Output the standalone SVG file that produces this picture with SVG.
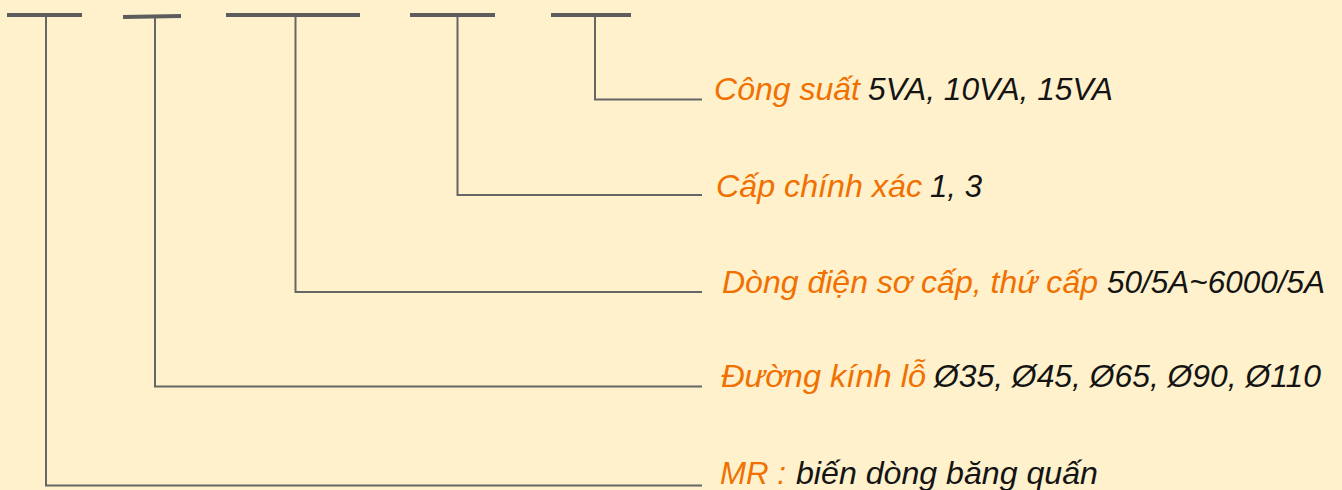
<svg xmlns="http://www.w3.org/2000/svg" width="1342" height="490" viewBox="0 0 1342 490">
<style>
.bar{stroke:#5c5c5c;stroke-width:4;fill:none}
.con{stroke:#666;stroke-width:2;fill:none}
text{font-family:"Liberation Sans",Arial,sans-serif;font-style:italic;font-size:31.5px}
.o{fill:#f07000}
.k{fill:#141414}
</style>
<rect width="1342" height="490" fill="#fff1cc"/>
<g id="bars">
<line class="bar" x1="7" y1="15" x2="82" y2="15"/>
<line class="bar" x1="123" y1="17" x2="181" y2="16"/>
<line class="bar" x1="226" y1="15" x2="360" y2="15"/>
<line class="bar" x1="410" y1="15" x2="495" y2="15"/>
<line class="bar" x1="551" y1="15" x2="631" y2="15"/>
</g>
<g id="connectors">
<path class="con" d="M46 17V485.5H702"/>
<path class="con" d="M155 18V386.5H702"/>
<path class="con" d="M295.5 17V292H702"/>
<path class="con" d="M457.5 17V195H702"/>
<path class="con" d="M595 17V99.5H702"/>
</g>
<g id="label-congsuat">
<text class="o" x="714" y="100" textLength="146" lengthAdjust="spacingAndGlyphs">Công suất</text>
<text class="k" x="868" y="100" textLength="245" lengthAdjust="spacingAndGlyphs">5VA, 10VA, 15VA</text>
</g>
<g id="label-capchinhxac">
<text class="o" x="716" y="197" textLength="206" lengthAdjust="spacingAndGlyphs">Cấp chính xác</text>
<text class="k" x="930" y="197" textLength="52" lengthAdjust="spacingAndGlyphs">1, 3</text>
</g>
<g id="label-dongdien">
<text class="o" x="722" y="293" textLength="376" lengthAdjust="spacingAndGlyphs">Dòng điện sơ cấp, thứ cấp</text>
<text class="k" x="1107" y="293" textLength="218" lengthAdjust="spacingAndGlyphs">50/5A~6000/5A</text>
</g>
<g id="label-duongkinh">
<text class="o" x="721" y="387" textLength="205" lengthAdjust="spacingAndGlyphs">Đường kính lỗ</text>
<text class="k" x="934" y="387" textLength="387" lengthAdjust="spacingAndGlyphs">Ø35, Ø45, Ø65, Ø90, Ø110</text>
</g>
<g id="label-mr">
<text class="o" x="720" y="484" textLength="66" lengthAdjust="spacingAndGlyphs">MR :</text>
<text class="k" x="796" y="484" textLength="302" lengthAdjust="spacingAndGlyphs">biến dòng băng quấn</text>
</g>
</svg>
